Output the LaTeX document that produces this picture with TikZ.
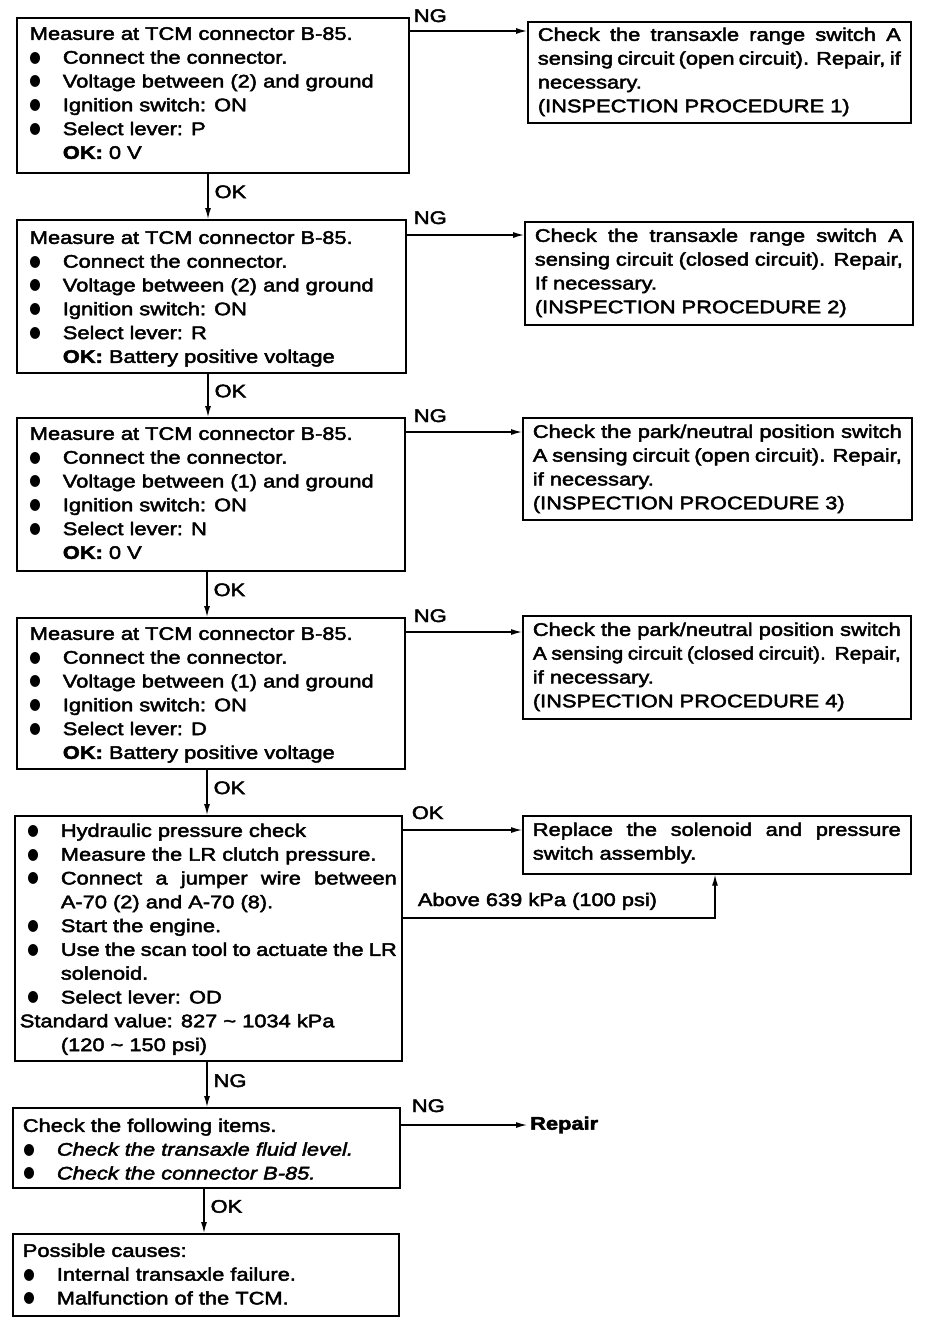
\documentclass[tikz,border=0pt]{standalone}
\usepackage{fontspec}
\setmainfont{Liberation Sans}[FakeStretch=1.2,FakeBold=2.5]
\newfontfamily\dvfont{DejaVu Sans}
\usetikzlibrary{arrows.meta}
\newcommand\fs{\fontsize{18.2pt}{23.8pt}\selectfont}
\newcommand\bdot{\raisebox{1.5pt}{\resizebox{11.5pt}{10pt}{\dvfont ●}}}
\newcommand\bul[1]{\hspace*{#1}\makebox[33pt][l]{\hspace{-0.5pt}\bdot}}
\newcommand\jl[2]{{\spaceskip=.3em plus 2em minus .28em\makebox[\dimexpr\linewidth-#1\relax][s]{#2}}}
\newcommand\tb[4]{\parbox[c][#1][t]{#2}{\rule{0pt}{#3}#4}}
\begin{document}
\begin{tikzpicture}[x=1pt,y=-1pt,
  box/.style={draw, line width=1.7pt, anchor=north west, inner ysep=0pt, font=\fs},
  lbl/.style={inner sep=0pt, font=\fs},
  arr/.style={line width=1.3pt, -{Latex[length=11pt,width=6pt]}}]
\fill[white] (0,0) rectangle (928,1322);
\useasboundingbox (0,0) rectangle (928,1322);

% left column
\node[box, inner xsep=13pt] (b1) at (16,17) {\tb{155pt}{366pt}{22pt}{Measure at TCM connector B-85.\\
\bul{0pt}Connect the connector.\\
\bul{0pt}Voltage between (2) and ground\\
\bul{0pt}Ignition switch: ON\\
\bul{0pt}Select lever: P\\
\hspace*{33pt}\textbf{OK:} 0 V}};

\node[box, inner xsep=13pt] (b2) at (16,219) {\tb{153pt}{363pt}{24pt}{Measure at TCM connector B-85.\\
\bul{0pt}Connect the connector.\\
\bul{0pt}Voltage between (2) and ground\\
\bul{0pt}Ignition switch: ON\\
\bul{0pt}Select lever: R\\
\hspace*{33pt}\textbf{OK:} Battery positive voltage}};

\node[box, inner xsep=13pt] (b3) at (16,417) {\tb{153pt}{362pt}{22pt}{Measure at TCM connector B-85.\\
\bul{0pt}Connect the connector.\\
\bul{0pt}Voltage between (1) and ground\\
\bul{0pt}Ignition switch: ON\\
\bul{0pt}Select lever: N\\
\hspace*{33pt}\textbf{OK:} 0 V}};

\node[box, inner xsep=13pt] (b4) at (16,617) {\tb{151pt}{362pt}{22pt}{Measure at TCM connector B-85.\\
\bul{0pt}Connect the connector.\\
\bul{0pt}Voltage between (1) and ground\\
\bul{0pt}Ignition switch: ON\\
\bul{0pt}Select lever: D\\
\hspace*{33pt}\textbf{OK:} Battery positive voltage}};

\node[box, inner xsep=5pt] (b5) at (14,815) {\tb{245pt}{377pt}{21pt}{\bul{8pt}Hydraulic pressure check\\
\bul{8pt}Measure the LR clutch pressure.\\
\bul{8pt}\jl{41pt}{Connect a jumper wire between}\\
\hspace*{41pt}A-70 (2) and A-70 (8).\\
\bul{8pt}Start the engine.\\
\bul{8pt}\jl{41pt}{Use the scan tool to actuate the LR}\\
\hspace*{41pt}solenoid.\\
\bul{8pt}Select lever: OD\\
Standard value: 827 \textasciitilde{} 1034 kPa\\
\hspace*{41pt}(120 \textasciitilde{} 150 psi)}};

\node[box, inner xsep=10pt] (b6) at (12,1107) {\tb{80pt}{367pt}{24pt}{Check the following items.\\
\bul{1pt}\textit{Check the transaxle fluid level.}\\
\bul{1pt}\textit{Check the connector B-85.}}};

\node[box, inner xsep=10pt] (b7) at (12,1233) {\tb{82pt}{366pt}{23pt}{Possible causes:\\
\bul{1pt}Internal transaxle failure.\\
\bul{1pt}Malfunction of the TCM.}};

% right column
\node[box, inner xsep=10pt] (r1) at (527,21) {\tb{101pt}{363pt}{19pt}{\jl{0pt}{Check the transaxle range switch A}\\
\jl{0pt}{sensing circuit (open circuit). Repair, if}\\
necessary.\\
(INSPECTION PROCEDURE 1)}};

\node[box, inner xsep=10pt] (r2) at (524,221) {\tb{103pt}{368pt}{20pt}{\jl{0pt}{Check the transaxle range switch A}\\
\jl{0pt}{sensing circuit (closed circuit). Repair,}\\
If necessary.\\
(INSPECTION PROCEDURE 2)}};

\node[box, inner xsep=10pt] (r3) at (522,417) {\tb{102pt}{369pt}{20pt}{\jl{0pt}{Check the park/neutral position switch}\\
\jl{0pt}{A sensing circuit (open circuit). Repair,}\\
if necessary.\\
(INSPECTION PROCEDURE 3)}};

\node[box, inner xsep=10pt] (r4) at (522,615) {\tb{103pt}{368pt}{20pt}{\jl{0pt}{Check the park/neutral position switch}\\
\scalebox{0.955}[1]{\spaceskip=.2em plus 1em minus .15em\makebox[1.047\linewidth][s]{A sensing circuit (closed circuit). Repair,}}\\
if necessary.\\
(INSPECTION PROCEDURE 4)}};

\node[box, inner xsep=10pt] (r5) at (522,815) {\tb{58pt}{368pt}{20pt}{\jl{0pt}{Replace the solenoid and pressure}\\
switch assembly.}};

\node[lbl, anchor=west, font=\fs\bfseries, inner xsep=3pt] (rep) at (527,1125) {Repair};

% horizontal NG / OK connectors
\coordinate (h1) at ([yshift=-14pt]b1.north east);
\coordinate (h2) at ([yshift=-16pt]b2.north east);
\coordinate (h3) at ([yshift=-15pt]b3.north east);
\coordinate (h4) at ([yshift=-15pt]b4.north east);
\coordinate (h5) at ([yshift=-15pt]b5.north east);
\coordinate (h6) at ([yshift=-18pt]b6.north east);
\draw[arr] (h1) -- (h1 -| r1.west);
\draw[arr] (h2) -- (h2 -| r2.west);
\draw[arr] (h3) -- (h3 -| r3.west);
\draw[arr] (h4) -- (h4 -| r4.west);
\draw[arr] (h5) -- (h5 -| r5.west);
\draw[arr] (h6) -- (h6 -| rep.west);
\node[lbl, anchor=base west] (ng1) at ([xshift=4pt,yshift=-5pt]b1.north east) {NG};
\node[lbl, anchor=base west] (ng2) at ([xshift=7pt,yshift=-5pt]b2.north east) {NG};
\node[lbl, anchor=base west] (ng3) at ([xshift=8pt,yshift=-5pt]b3.north east) {NG};
\node[lbl, anchor=base west] (ng4) at ([xshift=8pt,yshift=-5pt]b4.north east) {NG};
\node[lbl, anchor=base west] (ok5) at ([xshift=9pt,yshift=-4pt]b5.north east) {OK};
\node[lbl, anchor=base west] (ng6) at ([xshift=11pt,yshift=-5pt]b6.north east) {NG};

% feedback from b5 to r5
\coordinate (fb) at (715,918);
\draw[arr] (fb -| b5.east) -- (fb) -- (fb |- r5.south);
\node[lbl, anchor=base west] (abv) at ([xshift=15pt,yshift=12pt]fb -| b5.east) {Above 639 kPa (100 psi)};

% vertical connectors
\coordinate (v1) at ([xshift=192pt]b1.south west);
\coordinate (v2) at ([xshift=192pt]b2.south west);
\coordinate (v3) at ([xshift=191pt]b3.south west);
\coordinate (v4) at ([xshift=191pt]b4.south west);
\coordinate (v5) at ([xshift=193pt]b5.south west);
\coordinate (v6) at ([xshift=192pt]b6.south west);
\draw[arr] (v1) -- (v1 |- b2.north) node[lbl, pos=0.4, anchor=west, xshift=6pt] (o1) {OK};
\draw[arr] (v2) -- (v2 |- b3.north) node[lbl, pos=0.4, anchor=west, xshift=6pt] (o2) {OK};
\draw[arr] (v3) -- (v3 |- b4.north) node[lbl, pos=0.4, anchor=west, xshift=6pt] (o3) {OK};
\draw[arr] (v4) -- (v4 |- b5.north) node[lbl, pos=0.4, anchor=west, xshift=6pt] (o4) {OK};
\draw[arr] (v5) -- (v5 |- b6.north) node[lbl, pos=0.42, anchor=west, xshift=6pt] (o5) {NG};
\draw[arr] (v6) -- (v6 |- b7.north) node[lbl, pos=0.4, anchor=west, xshift=6pt] (o6) {OK};
\end{tikzpicture}
\end{document}
